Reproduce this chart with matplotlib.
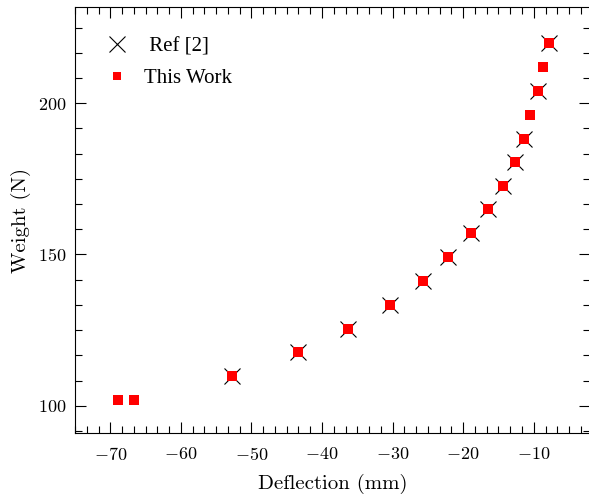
import numpy as np
import matplotlib
matplotlib.use("Agg")
import matplotlib.pyplot as plt
from matplotlib.ticker import MultipleLocator, AutoMinorLocator

plt.rcParams['font.family'] = 'serif'
plt.rcParams['font.serif'] = ['cmr10']
plt.rcParams['mathtext.fontset'] = 'cm'
plt.rcParams['axes.formatter.use_mathtext'] = True

# this work (all points)
workDefl = [-68.9, -66.6, -52.7, -43.4, -36.3, -30.4, -25.7, -22.1, -18.9,
            -16.5, -14.3, -12.6, -11.4, -10.5, -9.4, -8.7, -7.9]
workWeight = [101.8, 101.8, 109.8, 117.7, 125.5, 133.4, 141.3, 149.2, 157.1,
              164.9, 172.8, 180.5, 188.3, 196.2, 204.1, 212.0, 219.8]

# ref [2]
refDefl = [-52.7, -43.4, -36.3, -30.4, -25.7, -22.1, -18.9,
           -16.5, -14.3, -12.6, -11.4, -9.4, -7.9]
refWeight = [109.8, 117.7, 125.5, 133.4, 141.3, 149.2, 157.1,
             164.9, 172.8, 180.5, 188.3, 204.1, 219.8]

fig = plt.figure(figsize=(5.89, 4.94), dpi=100)
ax = fig.add_axes([75/589, 1 - 433/494, (589.5 - 75)/589, (433 - 7.3)/494])

ax.plot(refDefl, refWeight, 'x', color='black', markersize=11.5,
        markeredgewidth=0.8, label=' Ref [2]')
ax.plot(workDefl, workWeight, 's', color='#ff0000', markersize=7,
        markeredgewidth=0, label='This Work')

ax.set_xlim(-75, -2.1)
ax.set_ylim(91, 231.7)
ax.xaxis.set_major_locator(MultipleLocator(10))
ax.xaxis.set_minor_locator(AutoMinorLocator(6))
ax.yaxis.set_major_locator(MultipleLocator(50))
ax.yaxis.set_minor_locator(AutoMinorLocator(6))
ax.tick_params(which='both', direction='in', top=True, right=True,
               labelsize=13, width=0.8)
ax.tick_params(which='major', length=8)
ax.tick_params(which='minor', length=5)
ax.tick_params(axis='x', which='major', pad=9)
ax.tick_params(axis='y', which='major', pad=6)
for s in ax.spines.values():
    s.set_linewidth(0.8)

ax.set_xlabel('Deflection (mm)', fontsize=15, labelpad=8)
ax.set_ylabel('Weight (N)', fontsize=15, labelpad=5)

leg = ax.legend(loc='upper left', frameon=False, numpoints=1,
                prop={'family': 'Liberation Serif', 'size': 15},
                handletextpad=0.3, labelspacing=0.6,
                bbox_to_anchor=(0.005, 0.975))
leg.legend_handles[1].set_markersize(5.8)

fig.savefig('out.png', dpi=100)
